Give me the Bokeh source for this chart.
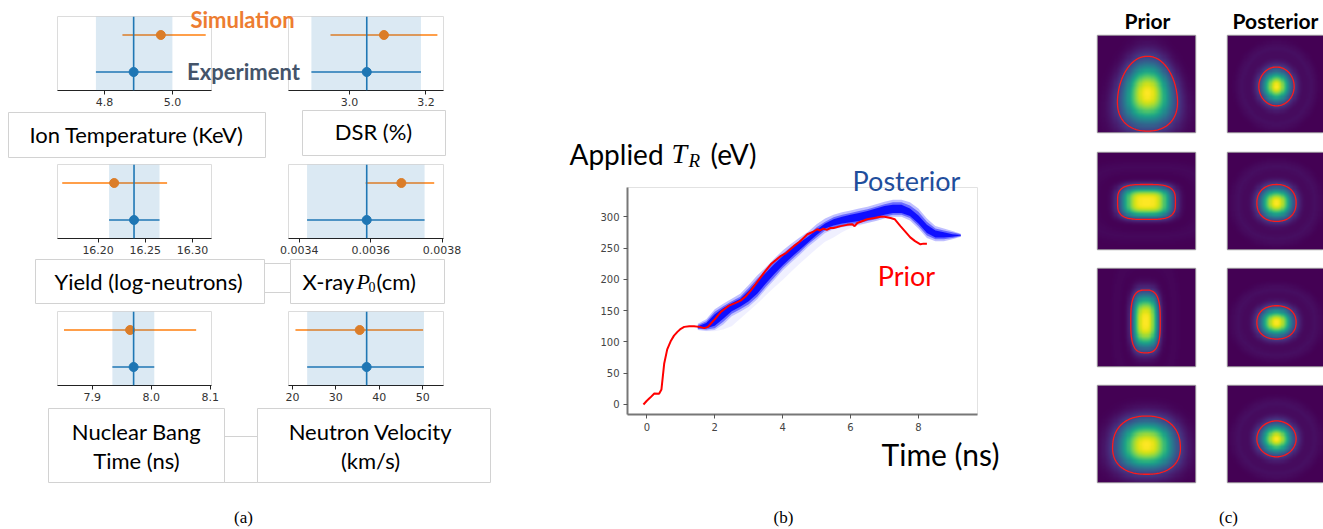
import numpy as np
from bokeh.plotting import figure
from bokeh.models import Range1d, FixedTicker, BoxAnnotation, Span, GridBox, LinearColorMapper, Column
from bokeh.palettes import Viridis256
from bokeh.embed import file_html
from bokeh.resources import INLINE
from bokeh.core.properties import value

W, H = 1323, 529

# ---------------- panel (a) data ----------------
metric_names = ["Ion Temperature (KeV)", "DSR (%)", "Yield (log-neutrons)",
                "X-ray P0(cm)", "Nuclear Bang Time (ns)", "Neutron Velocity (km/s)"]
exp_value = [4.886, 3.045, 16.238, 0.003589, 7.970, 37.1]
exp_low = [4.775, 2.900, 16.2116, 0.003422, 7.934, 23.4]
exp_high = [5.000, 3.187, 16.265, 0.003751, 8.005, 50.3]
sim_value = [4.966, 3.090, 16.217, 0.003686, 7.964, 35.5]
sim_low = [4.853, 2.950, 16.162, 0.003586, 7.852, 20.7]
sim_high = [5.098, 3.230, 16.273, 0.003778, 8.076, 50.1]
axis_min = [4.662, 2.840, 16.157, 0.00337, 7.841, 19.1]
axis_max = [5.115, 3.246, 16.320, 0.003804, 8.102, 54.8]
tick_values = [[4.8, 5.0], [3.0, 3.2], [16.20, 16.25, 16.30],
               [0.0034, 0.0036, 0.0038], [7.9, 8.0, 8.1], [20, 30, 40, 50]]
tick_labels = [["4.8", "5.0"], ["3.0", "3.2"], ["16.20", "16.25", "16.30"],
               ["0.0034", "0.0036", "0.0038"], ["7.9", "8.0", "8.1"], ["20", "30", "40", "50"]]
EXP_Y, SIM_Y = 0.25, 0.75

# ---------------- panel (b) data ----------------
prior_t = [-0.1, 0.0, 0.1, 0.22, 0.36, 0.43, 0.51, 0.6, 0.71, 0.8, 0.9, 1.0, 1.1, 1.25, 1.39,
           1.55, 1.69, 1.8, 1.88, 2.0, 2.18, 2.3, 2.42, 2.6, 2.76, 2.9, 3.06, 3.2, 3.35, 3.5,
           3.65, 3.8, 3.94, 4.1, 4.33, 4.5, 4.73, 4.9, 5.02, 5.1, 5.2, 5.3, 5.41, 5.5, 5.71,
           5.9, 6.05, 6.12, 6.2, 6.49, 6.7, 6.88, 7.0, 7.18, 7.3, 7.47, 7.6, 7.76, 7.9, 8.06,
           8.15, 8.25]
prior_tr = [0, 6, 11, 17.5, 17, 24, 65, 88, 102, 110, 116, 121, 124, 125, 125,
            124, 122, 124, 129, 136, 148, 153, 158, 162, 166, 172, 182, 192, 203, 214,
            224, 231, 237, 242, 253, 260, 272, 276, 280, 278, 281, 279, 282, 282, 285,
            287, 288, 285, 290, 296, 298, 300, 300, 298, 296, 285, 277, 267, 261, 256,
            257, 257]
post_t = [1.5, 1.75, 2.0, 2.25, 2.5, 2.75, 3.0, 3.25, 3.5, 3.75, 4.0, 4.25, 4.5, 4.75, 5.0,
          5.25, 5.5, 5.75, 6.0, 6.25, 6.5, 6.75, 7.0, 7.25, 7.5, 7.75, 8.0, 8.25, 8.5, 8.75,
          9.0, 9.25]
post_glow_upper = [129, 136, 152, 161, 169, 177, 191, 206, 219, 233, 246, 257, 267, 276, 288,
                   297, 303, 307, 310, 313, 316, 320, 324, 327, 327, 323, 313, 297, 285, 281,
                   277, 273]
post_glow_lower = [119, 118, 119, 128, 141, 148, 156, 168, 184, 199, 214, 227, 239, 252, 263,
                   274, 280, 283, 285, 287, 290, 293, 297, 300, 300, 294, 281, 266, 261, 261,
                   264, 268]
post_upper = [127, 133, 148, 157, 165, 172, 186, 201, 214, 228, 241, 252, 262, 271, 283,
              292, 299, 303, 306, 309, 312, 316, 320, 323, 323, 318, 308, 292, 281, 278,
              275, 272]
post_lower = [121, 120, 122, 132, 145, 152, 160, 172, 188, 203, 218, 231, 243, 256, 267,
              278, 283, 286, 288, 290, 293, 296, 300, 303, 303, 298, 285, 270, 264, 264,
              266, 269]
post_core_upper = [125, 130, 144, 154, 162, 169, 182, 197, 210, 224, 237, 249, 259, 268, 279,
                   289, 296, 300, 303, 306, 309, 313, 317, 319, 319, 313, 302, 287, 278, 275,
                   272, 271]
post_core_lower = [122, 122, 126, 137, 149, 156, 165, 177, 193, 208, 222, 235, 247, 259, 271,
                   281, 286, 289, 291, 293, 296, 299, 303, 306, 306, 301, 289, 274, 267, 267,
                   268, 270]
post_faint_lower = [119, 117, 117, 120, 125, 137, 149, 161, 174, 187, 199, 212, 225, 237, 249,
                    260, 267, 275, 282, 285, 290, 293, 297, 300, 300, 294, 281, 266, 261, 261,
                    264, 268]
time_ticks = [0, 2, 4, 6, 8]
tr_ticks = [0, 50, 100, 150, 200, 250, 300]

# ---------------- panel (c) data ----------------
# blob: centre x, centre y (from top), half width, half height, shape power, bottom widening, ring
blob_cx = [0.51, 0.50, 0.50, 0.50, 0.49, 0.50, 0.50, 0.50]
blob_cy = [0.60, 0.525, 0.51, 0.52, 0.54, 0.55, 0.615, 0.55]
blob_ax = [0.30, 0.18, 0.295, 0.20, 0.15, 0.20, 0.345, 0.20]
blob_ay = [0.385, 0.20, 0.18, 0.19, 0.32, 0.17, 0.30, 0.185]
blob_pow = [2.2, 2.0, 3.4, 2.2, 3.0, 2.2, 2.3, 2.0]
blob_skew = [0.18, 0.0, 0.0, 0.0, 0.0, 0.0, 0.05, 0.0]
blob_ring = [0.0, 0.035, 0.02, 0.035, 0.015, 0.035, 0.0, 0.035]

BLUE = "#1f77b4"
ORANGE = "#ff7f0e"


def canvas(x0, x1, y0, y1, **kw):
    p = figure(width=W, height=H, output_backend="svg", toolbar_location=None,
               min_border_left=x0, min_border_right=W - x1,
               min_border_top=y0, min_border_bottom=H - y1,
               border_fill_color=None, background_fill_color=None,
               outline_line_color=None, **kw)
    return p


figs = []

# ---------------- panel (a) ----------------
frames_a = [(57, 211, 16, 90), (288, 443, 16, 90),
            (57, 211, 164, 238), (288, 443, 164, 238),
            (57, 211, 311, 385), (288, 443, 311, 385)]
for i, (x0, x1, y0, y1) in enumerate(frames_a):
    p = canvas(x0, x1, y0, y1, x_range=Range1d(axis_min[i], axis_max[i]),
               y_range=Range1d(0, 1))
    p.outline_line_color = "#dcdcdc"
    p.outline_line_width = 1
    p.grid.visible = False
    p.yaxis.visible = False
    ax = p.xaxis[0]
    ax.ticker = FixedTicker(ticks=tick_values[i])
    ax.major_label_overrides = {v: s for v, s in zip(tick_values[i], tick_labels[i])}
    ax.minor_tick_line_color = None
    ax.major_tick_in = 0
    ax.major_tick_out = 4
    ax.major_tick_line_color = "#222222"
    ax.axis_line_color = "#222222"
    ax.axis_line_width = 1.2
    ax.major_label_text_font = "DejaVu Sans"
    ax.major_label_text_font_size = "11px"
    ax.major_label_text_color = "#333333"
    ax.major_label_standoff = 3
    p.add_layout(BoxAnnotation(left=exp_low[i], right=exp_high[i], fill_color=BLUE,
                               fill_alpha=0.16, line_color=None))
    p.add_layout(Span(location=exp_value[i], dimension="height", line_color=BLUE,
                      line_width=1.6))
    p.segment(x0=[exp_low[i]], x1=[exp_high[i]], y0=[EXP_Y], y1=[EXP_Y],
              line_color=BLUE, line_width=1.6)
    p.scatter(x=[exp_value[i]], y=[EXP_Y], size=9, color=BLUE)
    p.segment(x0=[sim_low[i]], x1=[sim_high[i]], y0=[SIM_Y], y1=[SIM_Y],
              line_color=ORANGE, line_width=1.6)
    p.scatter(x=[sim_value[i]], y=[SIM_Y], size=9, color=ORANGE)
    figs.append(p)

# ---------------- panel (b) ----------------
pb = canvas(627, 977, 187, 414, x_range=Range1d(-0.57, 9.74), y_range=Range1d(-16, 346.7))
pb.outline_line_color = "#e2e2e2"
pb.grid.visible = False
for ax in (pb.xaxis[0], pb.yaxis[0]):
    ax.minor_tick_line_color = None
    ax.major_tick_in = 0
    ax.major_tick_out = 4
    ax.major_tick_line_color = "#555555"
    ax.axis_line_color = "#777777"
    ax.axis_line_width = 2
    ax.major_label_text_font = "DejaVu Sans"
    ax.major_label_text_font_size = "10px"
    ax.major_label_text_color = "#444444"
    ax.major_label_standoff = 4
pb.xaxis[0].ticker = FixedTicker(ticks=time_ticks)
pb.yaxis[0].ticker = FixedTicker(ticks=tr_ticks)
pb.varea(x=post_t, y1=post_faint_lower, y2=post_glow_lower, fill_color="#0000ff", fill_alpha=0.06)
pb.varea(x=post_t, y1=post_glow_lower, y2=post_glow_upper, fill_color="#0000ff", fill_alpha=0.25)
pb.varea(x=post_t, y1=post_lower, y2=post_upper, fill_color="#0000ff", fill_alpha=0.45)
pb.varea(x=post_t, y1=post_core_lower, y2=post_core_upper, fill_color="#0000ff", fill_alpha=0.85)
pb.line(x=prior_t, y=prior_tr, line_color="#ff0000", line_width=2)
figs.append(pb)

# ---------------- panel (c) ----------------
mapper = LinearColorMapper(palette=Viridis256, low=0, high=1)
img_frames = [(1097, 1195, 35, 132), (1227, 1323, 35, 132),
              (1097, 1195, 152, 249), (1227, 1323, 152, 249),
              (1097, 1195, 268, 366), (1227, 1323, 268, 366),
              (1097, 1195, 385, 482), (1227, 1323, 385, 482)]
n = 90
gx = np.linspace(0, 1, n)
gy = np.linspace(0, 1, n)
GX, GY = np.meshgrid(gx, gy)
for i, (x0, x1, y0, y1) in enumerate(img_frames):
    xr = Range1d(0, (x1 - x0) / 98.0)
    p = canvas(x0, x1, y0, y1, x_range=xr, y_range=Range1d(0, 1),
               x_axis_type=None, y_axis_type=None)
    p.outline_line_color = "#a8a8a8"
    p.outline_line_width = 1.5
    cyb = 1 - blob_cy[i]
    dy = (GY - cyb) / blob_ay[i]
    axw = blob_ax[i] * (1 - blob_skew[i] * dy)
    dx = (GX - blob_cx[i]) / axw
    q = blob_pow[i]
    s = np.abs(dx) ** q + np.abs(dy) ** q
    r = s ** (1.0 / q)
    Z = np.exp(-np.log(5) * s) + blob_ring[i] * np.exp(-((r - 2.0) / 0.4) ** 2)
    p.image(image=[Z], x=0, y=0, dw=1, dh=1, color_mapper=mapper)
    p.contour(x=gx, y=gy, z=Z, levels=[0.2], line_color="#ff1a1a", line_width=1.3)
    figs.append(p)

# ---------------- annotations (texts and boxes) ----------------
pa = canvas(0, W, 0, H, x_range=Range1d(0, W), y_range=Range1d(H, 0),
            x_axis_type=None, y_axis_type=None)
pa.grid.visible = False
box_l = [8, 302, 35, 290, 264, 48, 224, 257]
box_r = [265, 445, 264, 444, 290, 224, 257, 490]
box_t = [112, 110, 259, 259, 263, 408, 436, 408]
box_b = [157, 155, 303, 303, 292, 482, 482, 482]
pa.quad(left=box_l, right=box_r, top=box_t, bottom=box_b, fill_color=None,
        line_color="#d2d2d2", line_width=1)


def txt(x, y, s, size, color="black", font="Lato", style="normal", align="center"):
    pa.text(x=[x], y=[y], text=[s], text_font=value(font), text_font_size=f"{size}px",
            text_font_style=style, text_color=color, text_align=align,
            text_baseline="middle")


txt(242, 19, "Simulation", 22, "#ED7D31", style="bold")
txt(243, 71, "Experiment", 22, "#44546A", style="bold")
txt(136, 134, metric_names[0], 22)
txt(373, 131, metric_names[1], 22)
txt(148, 281, metric_names[2], 22)
txt(302, 281, "X-ray", 22, align="left")
txt(356, 281, "P", 22, font="Liberation Serif", style="italic", align="left")
txt(368, 286, "0", 14, font="Liberation Serif", align="left")
txt(376, 281, "(cm)", 22, align="left")
txt(136, 431, "Nuclear Bang", 22)
txt(136, 460, "Time (ns)", 22)
txt(370, 431, "Neutron Velocity", 22)
txt(370, 460, "(km/s)", 22)

txt(569, 153, "Applied", 28, align="left")
txt(671, 153, "T", 28, font="Liberation Serif", style="italic", align="left")
txt(688, 160, "R", 19, font="Liberation Serif", style="italic", align="left")
txt(710, 153, "(eV)", 28, align="left")
txt(906, 180, "Posterior", 27, "#1F4E9C")
txt(906, 275, "Prior", 27, "#FF0000")
txt(940, 453, "Time (ns)", 30)

txt(1147, 20, "Prior", 21, style="bold")
txt(1275, 20, "Posterior", 21, style="bold")

txt(243, 517, "(a)", 17, font="Liberation Serif")
txt(783, 517, "(b)", 17, font="Liberation Serif")
txt(1228, 517, "(c)", 17, font="Liberation Serif")
figs.append(pa)

wrapped = [Column(children=[f], width=W, height=H) for f in figs]
layout = GridBox(children=[(c, 0, 0) for c in wrapped], width=W, height=H)
open("out.html", "w").write(file_html(layout, INLINE))
